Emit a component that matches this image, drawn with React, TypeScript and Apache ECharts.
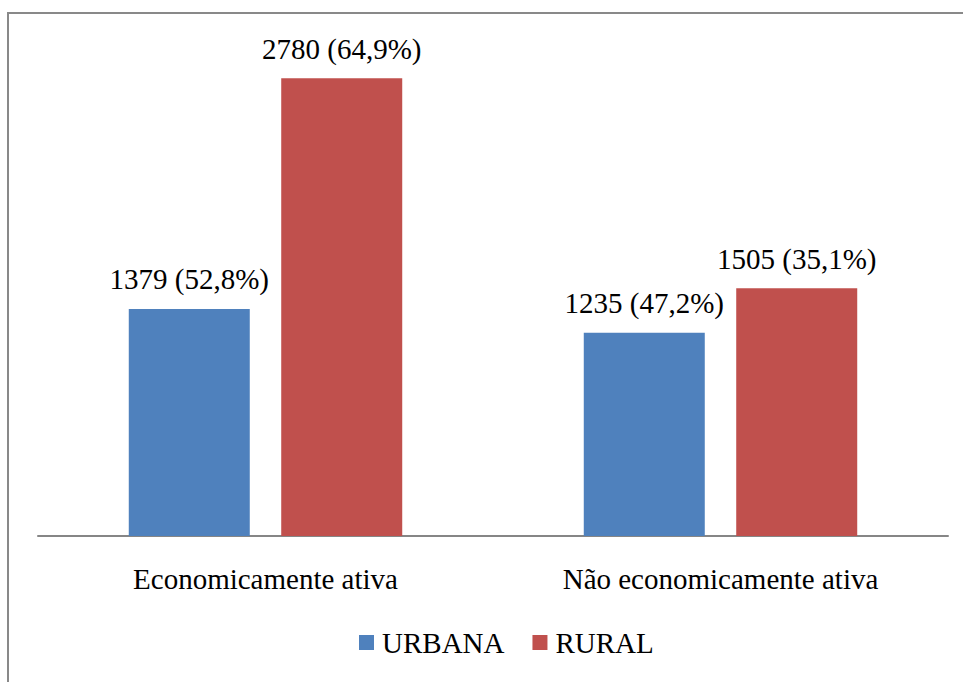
import React, { useEffect, useRef } from "react";
import * as echarts from "echarts";

const categories = ["Economicamente ativa", "Não economicamente ativa"];
const urbanaValues = [1379, 1235];
const urbanaPercents = [52.8, 47.2];
const ruralValues = [2780, 1505];
const ruralPercents = [64.9, 35.1];

const FONT = "Liberation Serif";
const FS = 29;

const fmt = (vals: number[], pcts: number[]) => (p: any) =>
  `${vals[p.dataIndex]} (${pcts[p.dataIndex].toFixed(1).replace(".", ",")}%)`;

export default function App() {
  const ref = useRef<HTMLDivElement>(null);
  useEffect(() => {
    if (!ref.current) return;
    const chart = echarts.init(ref.current, null, { renderer: "svg" });
    chart.setOption({
      animation: false,
      backgroundColor: "#ffffff",
      textStyle: { fontFamily: FONT },
      graphic: [
        { type: "rect", shape: { x: 7, y: 12, width: 2, height: 682 }, style: { fill: "#898989" } },
        { type: "rect", shape: { x: 7, y: 12, width: 970, height: 2 }, style: { fill: "#898989" } },
      ],
      grid: { left: 38, right: 15, top: 42, bottom: 146 },
      legend: {
        left: 354,
        top: 623,
        itemWidth: 15,
        itemHeight: 15,
        itemGap: 28,
        icon: "rect",
        textStyle: { fontFamily: FONT, fontSize: FS, color: "#000", padding: [0, 0, 0, 3] },
        data: ["URBANA", "RURAL"],
      },
      xAxis: {
        type: "category",
        data: categories,
        axisLine: { lineStyle: { color: "#868686", width: 2 } },
        axisTick: { show: false },
        axisLabel: { fontFamily: FONT, fontSize: FS, color: "#000", margin: 28 },
      },
      yAxis: {
        type: "value",
        min: 0,
        max: 3000,
        show: false,
        splitLine: { show: false },
      },
      series: [
        {
          name: "URBANA",
          type: "bar",
          data: urbanaValues,
          barWidth: 121,
          barGap: "26%",
          itemStyle: { color: "#4F81BD" },
          label: {
            show: true,
            position: "top",
            distance: 15,
            fontFamily: FONT,
            fontSize: FS,
            color: "#000",
            formatter: fmt(urbanaValues, urbanaPercents),
          },
        },
        {
          name: "RURAL",
          type: "bar",
          data: ruralValues,
          barWidth: 121,
          itemStyle: { color: "#C0504D" },
          label: {
            show: true,
            position: "top",
            distance: 15,
            fontFamily: FONT,
            fontSize: FS,
            color: "#000",
            formatter: fmt(ruralValues, ruralPercents),
          },
        },
      ],
    });
    return () => chart.dispose();
  }, []);
  return (
    <div
      ref={ref}
      style={{ position: "fixed", left: 0, top: 0, width: 963, height: 682 }}
    />
  );
}
